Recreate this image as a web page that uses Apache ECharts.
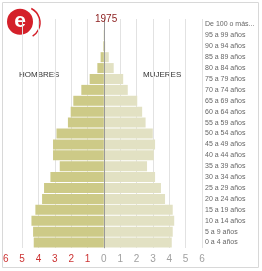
<!DOCTYPE html>
<html>
<head>
<meta charset="utf-8">
<script src="https://cdn.jsdelivr.net/npm/echarts@6/dist/echarts.min.js"></script>
<style>
  html, body { margin: 0; padding: 0; background: #fff; }
  #chart { width: 262px; height: 271px; }
</style>
</head>
<body>
<div id="chart"></div>
<script>
// grupos de edad, de abajo hacia arriba
const ageGroups = ['0 a 4 años', '5 a 9 años', '10 a 14 años', '15 a 19 años', '20 a 24 años',
  '25 a 29 años', '30 a 34 años', '35 a 39 años', '40 a 44 años', '45 a 49 años', '50 a 54 años',
  '55 a 59 años', '60 a 64 años', '65 a 69 años', '70 a 74 años', '75 a 79 años', '80 a 84 años',
  '85 a 89 años', '90 a 94 años', '95 a 99 años', 'De 100 o más...'];
// % de la población
const hombres = [4.29, 4.33, 4.43, 4.19, 3.78, 3.66, 3.27, 2.70, 3.11, 3.11, 2.90,
  2.20, 2.03, 1.87, 1.38, 0.87, 0.40, 0.20, 0.04, 0.01, 0];
const mujeres = [4.15, 4.21, 4.30, 4.21, 3.74, 3.49, 3.13, 2.64, 3.05, 3.13, 2.99,
  2.55, 2.34, 2.04, 1.46, 1.18, 0.60, 0.30, 0.08, 0.02, 0];
const year = '1975';

const font = '"Liberation Sans", Arial, sans-serif';
const chart = echarts.init(document.getElementById('chart'));

chart.setOption({
  animation: false,
  title: {
    text: year,
    left: 95,
    top: 14,
    padding: 0,
    textStyle: { color: '#8b1c1c', fontSize: 10, fontWeight: 'normal', fontFamily: font }
  },
  grid: { left: 5, right: 60, top: 19, bottom: 23, containLabel: false },
  xAxis: {
    type: 'value',
    min: -6,
    max: 6,
    interval: 1,
    axisLine: { show: false },
    axisTick: { show: false },
    splitLine: { show: true, showMinLine: false, lineStyle: { color: '#e2e2e2', width: 1 } },
    axisLabel: {
      margin: 6,
      fontSize: 10,
      fontFamily: font,
      formatter: v => Math.abs(v),
      color: v => (v < 0 ? '#cc3333' : '#a0a0a0')
    }
  },
  yAxis: {
    type: 'category',
    position: 'right',
    data: ageGroups,
    axisLine: { show: true, lineStyle: { color: '#cfcfcf' } },
    axisTick: { show: false },
    axisLabel: {
      align: 'left',
      margin: 3,
      fontSize: 7,
      fontFamily: font,
      color: '#666'
    }
  },
  series: [
    {
      name: 'Hombres',
      type: 'bar',
      data: hombres.map(v => -v),
      barWidth: 10,
      barGap: '-100%',
      itemStyle: { color: '#cdca87' },
      markLine: {
        silent: true,
        symbol: 'none',
        label: { show: false },
        lineStyle: { color: '#9a9a9a', type: 'solid', width: 1 },
        data: [{ xAxis: 0 }]
      }
    },
    {
      name: 'Mujeres',
      type: 'bar',
      data: mujeres,
      barWidth: 10,
      barGap: '-100%',
      itemStyle: { color: '#e2e1c3' }
    }
  ],
  graphic: [
    {
      type: 'rect',
      shape: { x: 2.5, y: 2.5, width: 256, height: 265 },
      style: { fill: 'none', stroke: '#d8d8d8', lineWidth: 1 },
      z: -1
    },
    {
      type: 'text',
      left: 19,
      top: 71,
      style: { text: 'HOMBRES', fill: '#333', font: '8px ' + font }
    },
    {
      type: 'text',
      left: 143,
      top: 71,
      style: { text: 'MUJERES', fill: '#333', font: '8px ' + font }
    },
    {
      type: 'group',
      left: 7,
      top: 6,
      children: [
        { type: 'circle', shape: { cx: 14, cy: 13, r: 13 }, style: { fill: '#d4202a' } },
        {
          type: 'text',
          x: 14, y: 12,
          style: { text: 'e', fill: '#fff', font: 'bold 21px ' + font, align: 'center', verticalAlign: 'middle' }
        },
        {
          type: 'arc',
          shape: { cx: 18, cy: 14, r: 16, startAngle: -1.1, endAngle: 1.0 },
          style: { stroke: '#d4202a', lineWidth: 1.5, fill: 'none' }
        }
      ]
    }
  ]
});
</script>
</body>
</html>
